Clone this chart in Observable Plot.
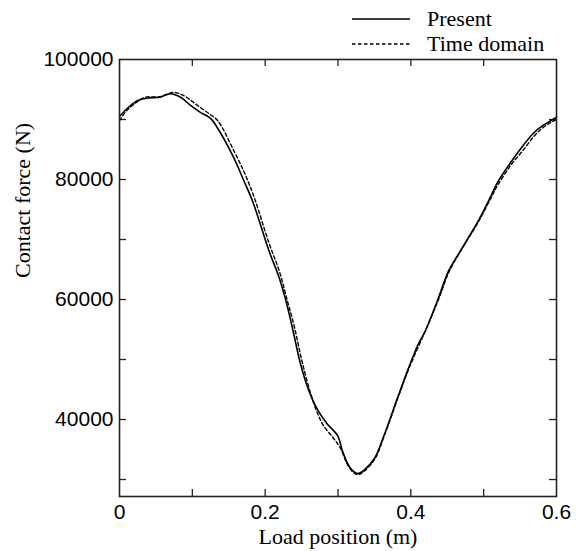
<!DOCTYPE html>
<html><head><meta charset="utf-8">
<script src="https://cdn.jsdelivr.net/npm/d3@7"></script>
<script src="https://cdn.jsdelivr.net/npm/@observablehq/plot@0.6"></script>
<style>
body{margin:0;background:#fff;}
#wrap{position:relative;width:584px;height:551px;}
#legend{position:absolute;left:352px;top:6px;font-family:"Liberation Serif","Times New Roman",serif;font-size:22px;color:#000;line-height:25px;}
#legend .row{display:flex;align-items:center;height:25px;}
#legend svg{margin-right:17px;}
</style></head><body><div id="wrap"><div id="legend"></div></div>
<script>
// Series names
const seriesNames = ["Present", "Time domain"];

// "Present" (solid)
const presentX = [0.000, 0.012, 0.026, 0.040, 0.055, 0.070, 0.084, 0.098, 0.111, 0.125, 0.135, 0.157, 0.170, 0.183, 0.205, 0.219, 0.228, 0.237, 0.248, 0.260, 0.272, 0.285, 0.2995, 0.306, 0.313, 0.320, 0.327, 0.335, 0.350, 0.363, 0.382, 0.397, 0.410, 0.420, 0.438, 0.452, 0.466, 0.479, 0.493, 0.509, 0.519, 0.538, 0.555, 0.569, 0.580, 0.592, 0.600];
const presentY = [90500, 92000, 93200, 93600, 93700, 94300, 93700, 92300, 91200, 90200, 88500, 83600, 80000, 76300, 68200, 63700, 60000, 55500, 49500, 44800, 41600, 39300, 37300, 34800, 32700, 31500, 31000, 31500, 33500, 37300, 43700, 48600, 52500, 54800, 60300, 64800, 67700, 70300, 73200, 77000, 79500, 83000, 85800, 87800, 88900, 89800, 90400];

// "Time domain" (dashed)
const timeX = [0.000, 0.010, 0.025, 0.035, 0.055, 0.074, 0.088, 0.100, 0.111, 0.125, 0.135, 0.157, 0.172, 0.185, 0.205, 0.220, 0.230, 0.240, 0.250, 0.262, 0.272, 0.280, 0.293, 0.303, 0.313, 0.320, 0.327, 0.335, 0.350, 0.363, 0.382, 0.397, 0.420, 0.438, 0.452, 0.466, 0.479, 0.493, 0.509, 0.519, 0.538, 0.555, 0.569, 0.580, 0.592, 0.600];
const timeY = [89800, 91500, 93000, 93700, 93800, 94500, 94000, 93000, 92000, 90800, 89800, 84800, 81000, 77000, 69500, 64500, 60000, 55500, 50000, 44500, 41000, 39000, 37000, 35300, 32500, 31300, 30800, 31300, 33300, 37100, 43500, 48400, 54800, 60000, 64500, 67600, 70200, 73000, 76700, 79000, 82500, 85000, 87200, 88500, 89500, 90000];

// Ticks
const xTicks = [0.1, 0.2, 0.3, 0.4, 0.5];
const xLabels = [0, 0.2, 0.4, 0.6];
const yTicks = [30000, 40000, 50000, 60000, 70000, 80000, 90000];
const yLabels = [40000, 60000, 80000, 100000];
const xTitle = "Load position (m)";
const yTitle = "Contact force (N)";

const present = presentX.map((x, i) => ({x, y: presentY[i]}));
const timeDom = timeX.map((x, i) => ({x, y: timeY[i]}));

const W = 584, H = 551, mL = 119, mR = 28, mT = 59, mB = 55;
const innerH = H - mT - mB, innerW = W - mL - mR, tl = 7;
const axisColor = "#222";
const sans = "'Liberation Sans', Arial, Helvetica, sans-serif";
const serif = "'Liberation Serif', 'Times New Roman', serif";

const chart = Plot.plot({
  width: W, height: H,
  marginLeft: mL, marginRight: mR, marginTop: mT, marginBottom: mB,
  style: {fontFamily: sans, fontSize: "21px", color: "#000", background: "#fff"},
  x: {domain: [0, 0.6]},
  y: {domain: [27170, 100000]},
  marks: [
    Plot.tickX(xTicks, {x: d => d, insetTop: innerH - tl, stroke: axisColor, strokeWidth: 1.3}),
    Plot.tickX(xTicks, {x: d => d, insetBottom: innerH - tl, stroke: axisColor, strokeWidth: 1.3}),
    Plot.tickY(yTicks, {y: d => d, insetRight: innerW - tl, stroke: axisColor, strokeWidth: 1.3}),
    Plot.tickY(yTicks, {y: d => d, insetLeft: innerW - tl, stroke: axisColor, strokeWidth: 1.3}),
    Plot.axisX(xLabels, {anchor: "bottom", tickSize: 0, tickPadding: 8, label: null, tickFormat: d => String(d), fontSize: 21, fill: "#000"}),
    Plot.axisY(yLabels, {anchor: "left", tickSize: 0, tickPadding: 6, label: null, tickFormat: d => String(d), fontSize: 21, fill: "#000"}),
    Plot.text([xTitle], {text: d => d, frameAnchor: "bottom", dy: 47, fontFamily: serif, fontSize: 22, fill: "#000"}),
    Plot.text([yTitle], {text: d => d, frameAnchor: "left", dx: -97, rotate: -90, fontFamily: serif, fontSize: 22, fill: "#000"}),
    Plot.line(timeDom, {x: "x", y: "y", curve: "catmull-rom", stroke: "#000", strokeWidth: 1.4, strokeDasharray: "3.5,2.5"}),
    Plot.line(present, {x: "x", y: "y", curve: "catmull-rom", stroke: "#000", strokeWidth: 1.6}),
    Plot.frame({stroke: axisColor, strokeWidth: 1.6})
  ]
});
document.getElementById("wrap").prepend(chart);

// Legend (HTML, above the plot area)
const legend = d3.select("#legend");
const styles = [{dash: null, w: 1.6}, {dash: "3.5,2.5", w: 1.4}];
seriesNames.forEach((name, i) => {
  const row = legend.append("div").attr("class", "row");
  const s = row.append("svg").attr("width", 58).attr("height", 10);
  s.append("line").attr("x1", 0).attr("x2", 58).attr("y1", 5).attr("y2", 5)
    .attr("stroke", "#000").attr("stroke-width", styles[i].w)
    .attr("stroke-dasharray", styles[i].dash);
  row.append("span").text(name);
});
</script>
</body></html>
